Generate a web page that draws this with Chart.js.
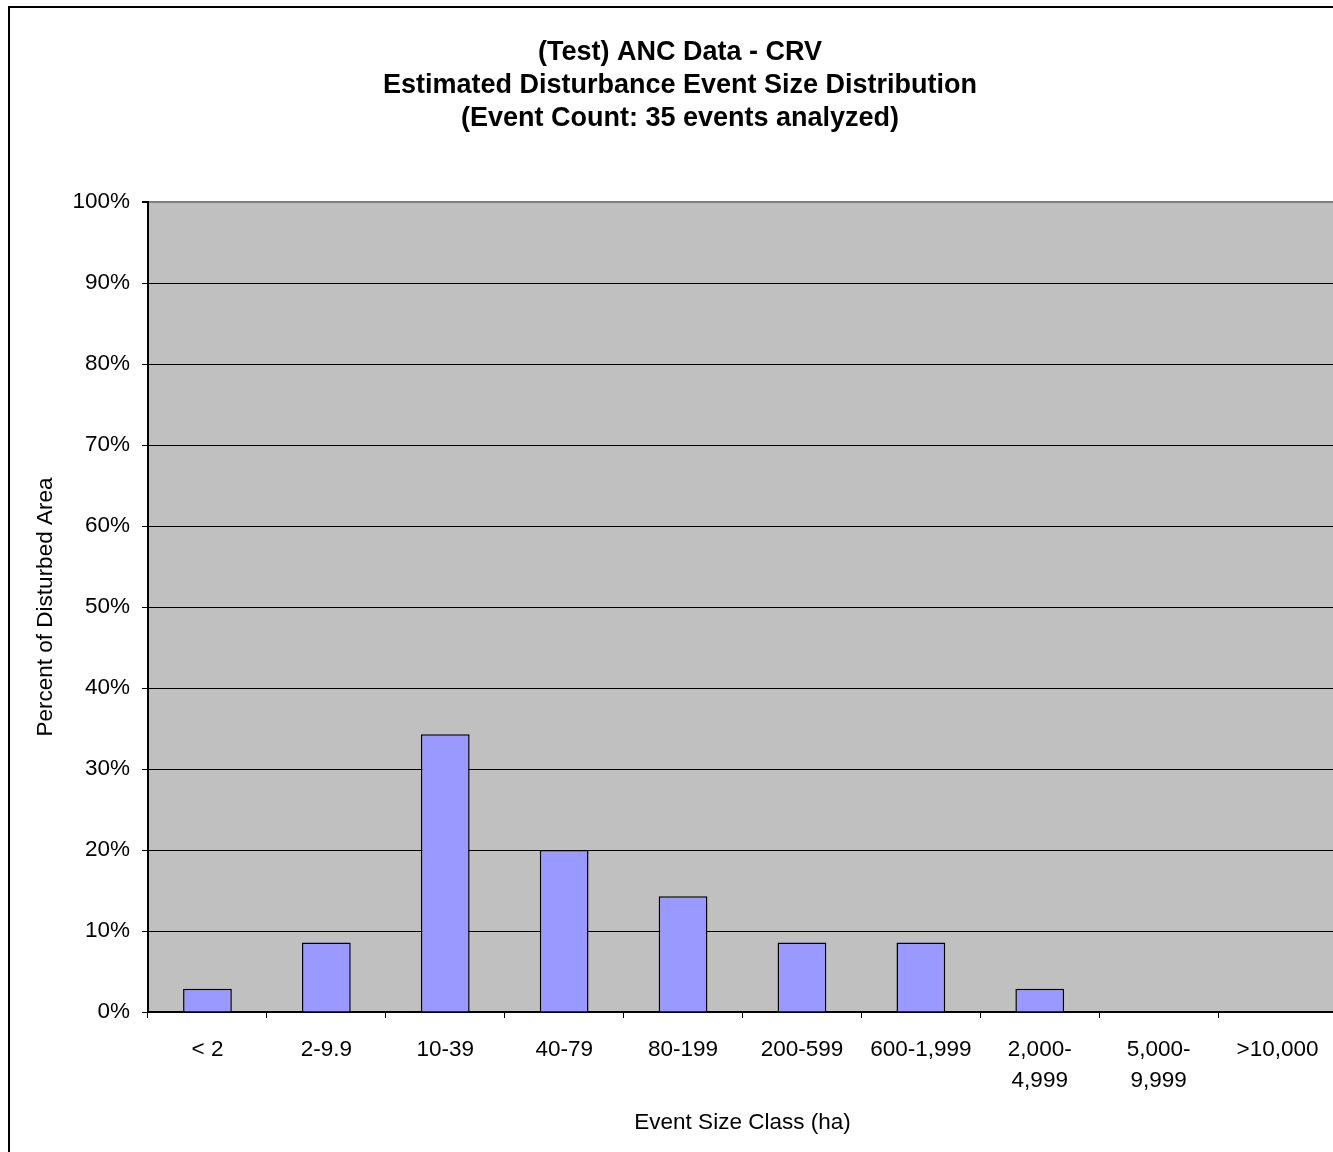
<!DOCTYPE html>
<html>
<head>
<meta charset="utf-8">
<title>Estimated Disturbance Event Size Distribution</title>
<script src="https://cdn.jsdelivr.net/npm/chart.js@4/dist/chart.umd.min.js"></script>
<style>
  html, body { margin: 0; padding: 0; background: #fff; overflow: hidden; width: 1333px; height: 1152px; }
  #frame { position: absolute; left: 8px; top: 6px; border: 2px solid #000; width: 1340px; height: 1160px; }
  #chart { display: block; }
</style>
</head>
<body>
<div id="frame"><canvas id="chart" width="1340" height="1160"></canvas></div>
<script>
// Event size classes (hectares)
const sizeClasses = ['< 2', '2-9.9', '10-39', '40-79', '80-199', '200-599', '600-1,999',
  ['2,000-', '4,999'], ['5,000-', '9,999'], '>10,000'];
// Percent of disturbed area in each class
const percentArea = [2.86, 8.57, 34.29, 20.0, 14.29, 8.57, 8.57, 2.86, 0, 0];
// Y axis labels every 10 percent
const yTickValues = [0, 10, 20, 30, 40, 50, 60, 70, 80, 90, 100];

const titleLines = ['(Test) ANC Data - CRV', 'Estimated Disturbance Event Size Distribution',
  '(Event Count: 35 events analyzed)'];

const FONT = "'Liberation Sans', Arial, Helvetica, sans-serif";
Chart.defaults.color = '#000';
Chart.defaults.font.family = FONT;

// Gray plot-area background
const plotBackground = {
  id: 'plotBackground',
  beforeDraw(chart) {
    const { ctx, chartArea: a } = chart;
    ctx.save();
    ctx.fillStyle = '#C0C0C0';
    ctx.fillRect(a.left, a.top, a.right - a.left, a.bottom - a.top);
    ctx.restore();
  }
};

new Chart(document.getElementById('chart'), {
  type: 'bar',
  data: {
    labels: sizeClasses,
    datasets: [{
      data: percentArea,
      backgroundColor: '#9999FF',
      borderColor: '#000',
      borderWidth: 1.5,
      categoryPercentage: 1,
      barPercentage: 0.41
    }]
  },
  plugins: [plotBackground],
  options: {
    responsive: false,
    animation: false,
    events: [],
    layout: { padding: { left: 13, right: 13, top: 0, bottom: 0 } },
    plugins: {
      legend: { display: false },
      tooltip: { enabled: false },
      title: {
        display: true,
        text: titleLines,
        color: '#000',
        font: { family: FONT, size: 27, weight: 'bold', lineHeight: '33px' },
        padding: { top: 28.5, bottom: 66.5 }
      }
    },
    scales: {
      x: {
        afterFit(scale) { scale.height = 156; },
        grid: {
          display: true,
          drawOnChartArea: false,
          drawTicks: true,
          tickLength: 6,
          tickColor: '#000',
          offset: true
        },
        border: { display: true, color: '#000', width: 2 },
        ticks: {
          color: '#000',
          padding: 16.5,
          maxRotation: 0,
          autoSkip: false,
          font: { family: FONT, size: 22.5, lineHeight: '31px' }
        },
        title: {
          display: true,
          text: 'Event Size Class (ha)',
          color: '#000',
          font: { family: FONT, size: 22.5, lineHeight: 1.2 },
          padding: { top: 0, bottom: 31.5 }
        }
      },
      y: {
        min: 0,
        max: 100,
        afterFit(scale) { scale.width = 125; },
        afterBuildTicks(scale) { scale.ticks = yTickValues.map(v => ({ value: v })); },
        grid: {
          color: c => (c.tick && c.tick.value === 100 ? '#808080' : '#000'),
          lineWidth: c => (c.tick && c.tick.value === 100 ? 2 : 1),
          tickColor: '#000',
          tickLength: 6,
          drawTicks: true
        },
        border: { display: true, color: '#000', width: 2 },
        ticks: {
          color: '#000',
          padding: 12,
          font: { family: FONT, size: 22.5 },
          callback: v => v + '%'
        },
        title: {
          display: true,
          text: 'Percent of Disturbed Area',
          color: '#000',
          font: { family: FONT, size: 22.5, lineHeight: 1.2 },
          padding: { top: 9.5, bottom: 0 }
        }
      }
    }
  }
});
</script>
</body>
</html>
